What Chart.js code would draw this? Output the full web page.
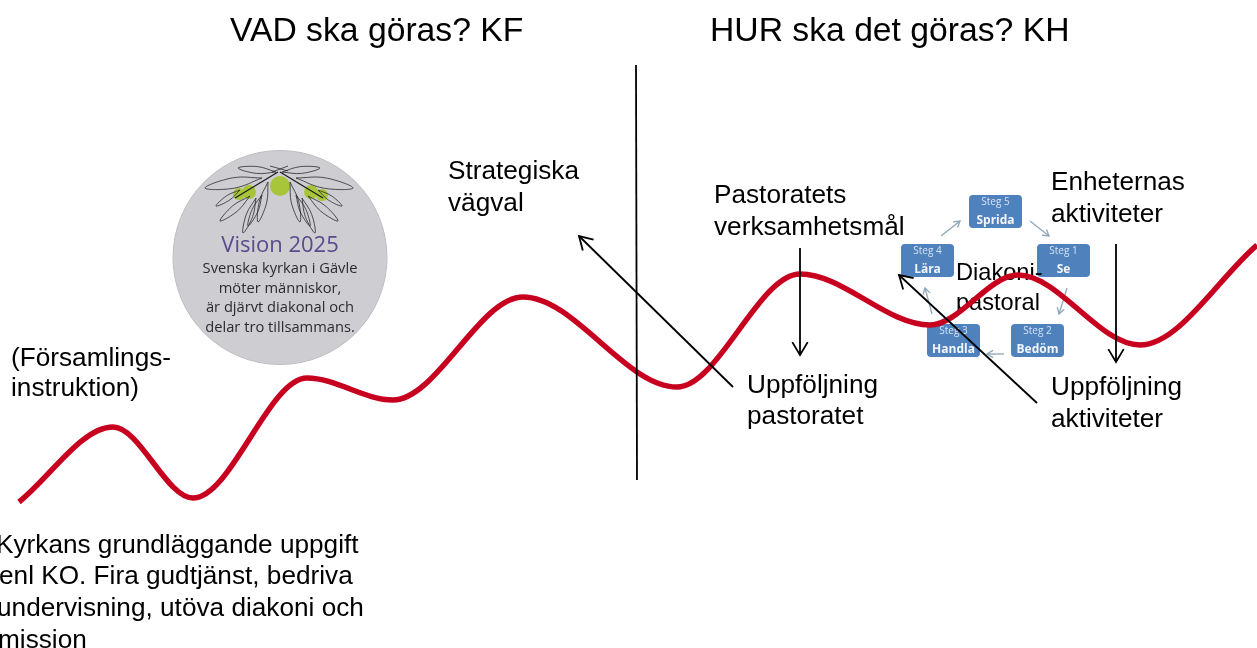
<!DOCTYPE html>
<html>
<head>
<meta charset="utf-8">
<title>VAD ska göras? HUR ska det göras?</title>
<script src="https://cdn.jsdelivr.net/npm/chart.js@4"></script>
<style>
  html, body { margin: 0; padding: 0; background: #fff; overflow: hidden; }
  canvas { display: block; }
</style>
</head>
<body>
<canvas id="myChart" width="1257" height="648"></canvas>
<script>
// the red wave: ends and turning points, monotone mode does the rest
const curveX = [19, 113, 193, 307, 393, 523, 677, 800, 930, 1018, 1140, 1257];
const curveY = [502, 427, 498, 378, 400, 297, 387, 274, 325, 275, 345, 245];

// divider and the long black arrows
const dividerX = [636, 637];
const dividerY = [65, 480];
const arrowFrom = [[733, 387], [800, 248], [1116, 244], [1037, 403]];
const arrowTo = [[579, 236], [800, 355], [1116, 362], [899, 275]];

// the cycle in the background
const stepNums = ["Steg 5", "Steg 1", "Steg 2", "Steg 3", "Steg 4"];
const stepNames = ["Sprida", "Se", "Bedöm", "Handla", "Lära"];
const stepX = [969, 1037, 1011, 927, 901];
const stepY = [195, 244, 324, 324, 244];
const cycleFrom = [[941, 236], [1030, 221], [1067, 288], [1004, 354], [932, 314]];
const cycleTo = [[960, 221], [1049, 236], [1059, 314], [987, 354], [925, 288]];

// olive branch on the badge, left half (right half is mirrored)
const leafBase = [[276, 172], [262, 178], [240, 190], [250, 196], [268, 182], [256, 198], [262, 195]];
const leafTip = [[238, 168], [205, 188], [216, 206], [220, 221], [258, 222], [243, 233], [248, 226]];
const oliveX = [280, 239, 249, 311, 322];
const oliveY = [186, 194, 192, 192, 195];
const oliveSize = [10, 6, 7, 7, 6];

const titleLines = ["VAD ska göras? KF", "HUR ska det göras? KH"];
const badgeLines = ["Svenska kyrkan i Gävle", "möter människor,", "är djärvt diakonal och", "delar tro tillsammans."];
const labelLines = [
  ["Strategiska", 448, 179], ["vägval", 448, 211],
  ["Pastoratets", 714, 203], ["verksamhetsmål", 714, 235],
  ["Enheternas", 1051, 190], ["aktiviteter", 1051, 222],
  ["(Församlings-", 11, 366], ["instruktion)", 11, 396],
  ["Uppföljning", 747, 393], ["pastoratet", 747, 424],
  ["Uppföljning", 1051, 395], ["aktiviteter", 1051, 427],
  ["Kyrkans grundläggande uppgift", -4, 553], ["enl KO. Fira gudtjänst, bedriva", -1, 584],
  ["undervisning, utöva diakoni och", -3, 616], ["mission", -2, 648],
];
const smallLines = [["Diakoni-", 956, 280], ["pastoral", 956, 310]];

function xy(xs, ys) {
  return xs.map((x, i) => ({ x: x, y: ys[i] }));
}

function lineSet(points, color, width) {
  return {
    data: points,
    showLine: true,
    borderColor: color,
    borderWidth: width,
    pointRadius: 0,
    tension: 0,
  };
}

// open arrow head: wing, tip, wing
function headPoints(from, to, len) {
  const a = Math.atan2(to[1] - from[1], to[0] - from[0]);
  const w = 0.54;
  return [
    { x: to[0] - len * Math.cos(a - w), y: to[1] - len * Math.sin(a - w) },
    { x: to[0], y: to[1] },
    { x: to[0] - len * Math.cos(a + w), y: to[1] - len * Math.sin(a + w) },
  ];
}

function leafPoints(b, t) {
  const nx = (t[1] - b[1]) * 0.09, ny = (b[0] - t[0]) * 0.09;
  const mx = (b[0] + t[0]) / 2, my = (b[1] + t[1]) / 2;
  return [
    { x: b[0], y: b[1] },
    { x: mx + nx, y: my + ny },
    { x: t[0], y: t[1] },
    { x: mx - nx, y: my - ny },
    { x: b[0], y: b[1] },
  ];
}

const datasets = [];
// first dataset ends up on top in Chart.js
arrowFrom.forEach((f, i) => {
  datasets.push(lineSet([{ x: f[0], y: f[1] }, { x: arrowTo[i][0], y: arrowTo[i][1] }], "#000", 1.8));
  datasets.push(lineSet(headPoints(f, arrowTo[i], 15), "#000", 1.8));
});
datasets.push(lineSet(xy(dividerX, dividerY), "#000", 1.8));
datasets.push(Object.assign(lineSet(xy(curveX, curveY), "#c8001f", 5.5), { cubicInterpolationMode: "monotone" }));
cycleFrom.forEach((f, i) => {
  datasets.push(lineSet([{ x: f[0], y: f[1] }, { x: cycleTo[i][0], y: cycleTo[i][1] }], "#8ea6b8", 1.3));
  datasets.push(lineSet(headPoints(f, cycleTo[i], 7), "#8ea6b8", 1.3));
});
leafBase.forEach((b, i) => {
  const t = leafTip[i];
  datasets.push(Object.assign(lineSet(leafPoints(b, t), "#2b2b2b", 0.8), { tension: 0.4 }));
  datasets.push(Object.assign(lineSet(leafPoints([558 - b[0], b[1]], [558 - t[0], t[1]]), "#2b2b2b", 0.8), { tension: 0.4 }));
});
datasets.push(lineSet([{ x: 278, y: 172 }, { x: 235, y: 198 }], "#1a1a1a", 1.2));
datasets.push(lineSet([{ x: 280, y: 172 }, { x: 323, y: 198 }], "#1a1a1a", 1.2));
datasets.push(lineSet([{ x: 270, y: 166 }, { x: 288, y: 171 }], "#2b2b2b", 0.8));
datasets.push(lineSet([{ x: 288, y: 166 }, { x: 272, y: 172 }], "#2b2b2b", 0.8));
datasets.push({
  data: xy(oliveX, oliveY),
  showLine: false,
  pointRadius: oliveSize,
  pointBackgroundColor: "#a8c53a",
  pointBorderWidth: 0,
});

const backdrop = {
  id: "backdrop",
  beforeDatasetsDraw(chart) {
    const ctx = chart.ctx, sx = chart.scales.x, sy = chart.scales.y;
    const px = (v) => sx.getPixelForValue(v);
    const py = (v) => sy.getPixelForValue(v);
    ctx.save();

    // badge
    ctx.beginPath();
    ctx.arc(px(280), py(257.5), 107, 0, Math.PI * 2);
    ctx.fillStyle = "#cdcdd2";
    ctx.fill();
    ctx.strokeStyle = "#bdbdc2";
    ctx.lineWidth = 1;
    ctx.stroke();

    ctx.textAlign = "center";
    ctx.textBaseline = "alphabetic";
    ctx.fillStyle = "#5b4a8c";
    ctx.font = "22px 'Open Sans'";
    ctx.fillText("Vision 2025", px(280), py(252));
    ctx.fillStyle = "#2c2c30";
    ctx.font = "14.7px 'Open Sans'";
    const badgeBase = [273, 293, 312, 332];
    badgeLines.forEach((t, i) => ctx.fillText(t, px(280), py(badgeBase[i])));

    // cycle boxes
    stepNames.forEach((name, i) => {
      ctx.beginPath();
      ctx.roundRect(px(stepX[i]), py(stepY[i]), 53, 33, 4);
      ctx.fillStyle = "#4f82bd";
      ctx.fill();
      const cx = px(stepX[i] + 26.5);
      ctx.fillStyle = "#d5e3f2";
      ctx.font = "10px 'Open Sans'";
      ctx.fillText(stepNums[i], cx, py(stepY[i] + 10));
      ctx.fillStyle = "#f2f6fb";
      ctx.font = "bold 12px 'Open Sans'";
      ctx.fillText(name, cx, py(stepY[i] + 29));
    });

    // black text
    ctx.textAlign = "left";
    ctx.fillStyle = "#000";
    ctx.font = "33.7px 'Liberation Sans'";
    ctx.fillText(titleLines[0], px(230), py(41));
    ctx.fillText(titleLines[1], px(710), py(41));
    ctx.font = "26.2px 'Liberation Sans'";
    labelLines.forEach((l) => ctx.fillText(l[0], px(l[1]), py(l[2])));
    ctx.font = "23.6px 'Liberation Sans'";
    smallLines.forEach((l) => ctx.fillText(l[0], px(l[1]), py(l[2])));
    ctx.restore();
  },
};

new Chart("myChart", {
  type: "scatter",
  data: { datasets: datasets },
  options: {
    responsive: false,
    animation: false,
    layout: { padding: 0, autoPadding: false },
    plugins: { legend: { display: false }, tooltip: { enabled: false } },
    scales: {
      x: { type: "linear", display: false, min: 0, max: 1257 },
      y: { type: "linear", display: false, min: 0, max: 648, reverse: true },
    },
  },
  plugins: [backdrop],
});
</script>
</body>
</html>
